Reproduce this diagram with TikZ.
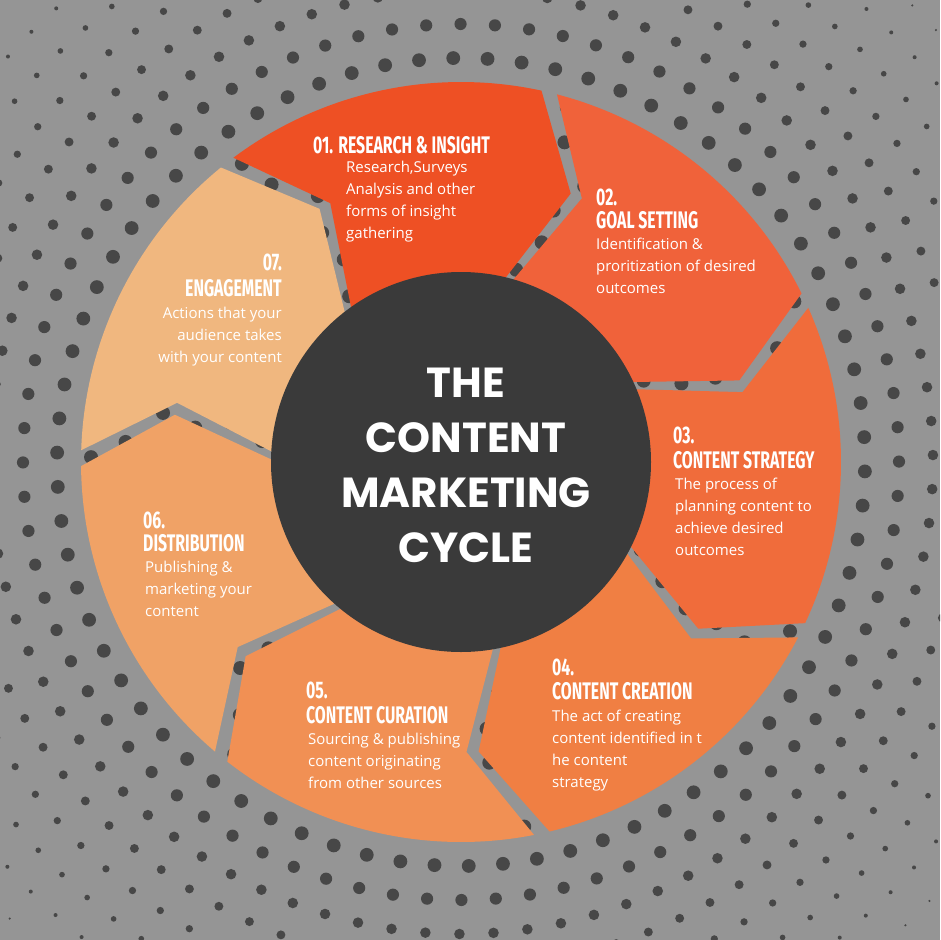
\documentclass[tikz,border=0pt]{standalone}
\usepackage{fontspec}
\setmainfont{Open Sans}
\newfontfamily\headfont[FakeStretch=0.66]{Fira Sans}
\newfontfamily\titlefont{Poppins}
\usetikzlibrary{calc}
\definecolor{bg}{HTML}{959595}
\definecolor{dotc}{HTML}{474747}
\definecolor{core}{HTML}{3A3A3A}
\definecolor{s1}{HTML}{EE5024}
\definecolor{s2}{HTML}{F0623A}
\definecolor{s3}{HTML}{F06C3B}
\definecolor{s4}{HTML}{F07F43}
\definecolor{s5}{HTML}{F19054}
\definecolor{s6}{HTML}{F0A266}
\definecolor{s7}{HTML}{F0B77F}
\tikzset{
  head/.style={anchor=west,inner sep=0pt,text=white,font=\headfont\bfseries\fontsize{24}{24}\selectfont},
  body/.style={anchor=north west,inner sep=0pt,text=white,align=left,font=\fontsize{15}{22}\selectfont},
}
\begin{document}
\begin{tikzpicture}[x=1pt,y=-1pt]
\useasboundingbox (0,0) rectangle (940,940);
\fill[bg] (0,0) rectangle (940,940);
\coordinate (C) at (461,462);
\begin{scope}
\clip (0,0) rectangle (940,940);
\foreach \myr in {200,234,...,740}{
  \pgfmathtruncatemacro\mycount{2*pi*\myr/34}
  \pgfmathsetmacro\mystep{360/\mycount}
  \pgfmathsetmacro\mydot{\myr<400 ? 7 : max(0.3,7-(\myr-400)*0.024)}
  \pgfmathsetmacro\myoff{\myr*0.37}
  \foreach \myi in {1,...,\mycount}{
    \fill[dotc] ($(C)+(\myi*\mystep+\myoff:\myr pt)$) circle[radius=\mydot pt];
  }
}
\end{scope}
\foreach \segk/\segcol in {1/s1,2/s2,3/s3,4/s4,5/s5,6/s6,7/s7}{
  \pgfmathsetmacro\angA{128-51.43*(\segk-1)-1.2}
  \pgfmathsetmacro\angB{128-51.43*\segk+1.2}
  \pgfmathsetmacro\angAt{\angA-10}
  \pgfmathsetmacro\angBt{\angB-10}
  \fill[\segcol] ($(C)+(\angA:380pt)$) arc[start angle=\angA,end angle=\angB,radius=380pt]
    -- ($(C)+(\angBt:290pt)$) -- ($(C)+(\angB:180pt)$)
    arc[start angle=\angB,end angle=\angA,radius=180pt]
    -- ($(C)+(\angAt:290pt)$) -- cycle;
}
\fill[core] (C) circle[radius=190pt];
\node[align=center,text=white,inner sep=0pt,font=\titlefont\bfseries\fontsize{42}{55}\selectfont] (title) at (466,465) {THE\\CONTENT\\MARKETING\\CYCLE};
\node[head] (h1) at (313,145) {01. RESEARCH \& INSIGHT};
\node[body] (b1) at (346,161) {Research,Surveys\\Analysis and other\\forms of insight\\gathering};
\node[head] (n2) at (596,197) {02.};
\node[head] (h2) at (596,220) {GOAL SETTING};
\node[body] (b2) at (596,238) {Identification \&\\proritization of desired\\outcomes};
\node[head] (n3) at (673,435) {03.};
\node[head] (h3) at (673,460) {CONTENT STRATEGY};
\node[body] (b3) at (675,478) {The process of\\planning content to\\achieve desired\\outcomes};
\node[head] (n4) at (552,667) {04.};
\node[head] (h4) at (552,691) {CONTENT CREATION};
\node[body] (b4) at (552,710) {The act of creating\\content identified in t\\he content\\strategy};
\node[head] (n5) at (306,690) {05.};
\node[head] (h5) at (306,715) {CONTENT CURATION};
\node[body] (b5) at (308,733) {Sourcing \& publishing\\content originating\\from other sources};
\node[head] (n6) at (143,520) {06.};
\node[head] (h6) at (143,543) {DISTRIBUTION};
\node[body] (b6) at (145,561) {Publishing \&\\marketing your\\content};
\node[head,anchor=east] (n7) at (282,262) {07.};
\node[head,anchor=east] (h7) at (282,288) {ENGAGEMENT};
\node[body,anchor=north east,align=right] (b7) at (282,307) {Actions that your\\audience takes\\with your content};
\end{tikzpicture}
\end{document}
